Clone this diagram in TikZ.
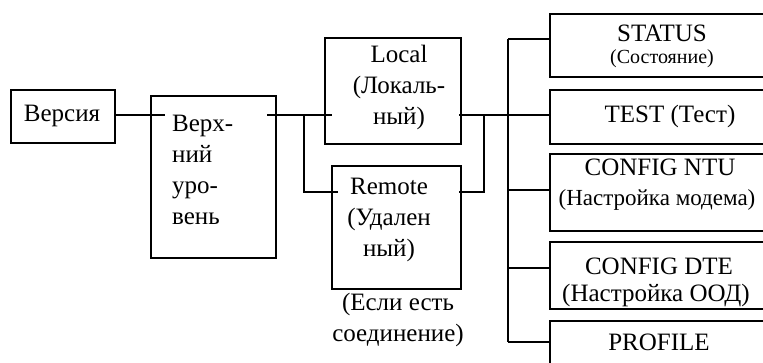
\documentclass[tikz,border=0pt]{standalone}
\usepackage{fontspec}
\setmainfont{Liberation Serif}
\begin{document}
\begin{tikzpicture}[x=1pt,y=-1pt,
  box/.style={draw,line width=1.6pt,inner sep=0pt,anchor=north west},
  wire/.style={line width=1.3pt},
  txt/.style={inner sep=0pt,font=\fontsize{25}{31}\selectfont,align=center},
  midtxt/.style={inner sep=0pt,font=\fontsize{23}{28}\selectfont,align=center},
  smalltxt/.style={inner sep=0pt,font=\fontsize{20}{24}\selectfont,align=center}]
\useasboundingbox (0,0) rectangle (763,363);
\clip (0,0) rectangle (763,363);
% boxes
\node[box,minimum width=104pt,minimum height=53pt] (ver) at (10,89) {};
\node[box,minimum width=125pt,minimum height=162pt] (top) at (150,95) {};
\node[box,minimum width=136pt,minimum height=106pt] (loc) at (324,37) {};
\node[box,minimum width=129pt,minimum height=123pt] (rem) at (331,165) {};
\node[box,minimum width=226pt,minimum height=63pt] (status) at (549,13) {};
\node[box,minimum width=226pt,minimum height=54pt] (test) at (549,89) {};
\node[box,minimum width=226pt,minimum height=77pt] (ntu) at (549,153) {};
\node[box,minimum width=226pt,minimum height=67pt] (dte) at (549,241) {};
\node[box,minimum width=226pt,minimum height=60pt] (prof) at (549,320) {};
% texts
\node[txt] (tver) at (62,116) {Версия};
\node[txt,align=left,anchor=west] (ttop) at (172,170) {Верх-\\ний\\уро-\\вень};
\node[txt] (tloc) at (399,87) {Local\\(Локаль-\\ный)};
\node[txt] (trem) at (389,220) {Remote\\(Удален\\ный)};
\node[txt] (tif) at (398,320) {(Если есть\\соединение)};
\node[txt] (tstatus) at (662,33) {STATUS};
\node[smalltxt] (tstatus2) at (662,59) {(Состояние)};
\node[txt] (ttest) at (670,116) {TEST (Тест)};
\node[txt] (tntu) at (660,167) {CONFIG NTU};
\node[midtxt] (tntu2) at (657,200) {(Настройка модема)};
\node[txt] (tdte) at (659,266) {CONFIG DTE};
\node[txt] (tdte2) at (656,295) {(Настройка ООД)};
\node[txt] (tprof) at (659,342) {PROFILE};
% junction coordinates
\coordinate (a1) at (165,115);
\coordinate (b0) at (267,115);
\coordinate (b1) at (304,115);
\coordinate (b2) at (304,192);
\coordinate (b3) at (338,192);
\coordinate (b4) at (332,115);
\coordinate (c0) at (459,115);
\coordinate (c1) at (484,115);
\coordinate (c2) at (484,192);
\coordinate (c3) at (459,192);
\coordinate (bus) at (508,115);
\coordinate (busT) at (508,39);
\coordinate (bus3) at (508,190);
\coordinate (bus4) at (508,268);
\coordinate (busB) at (508,342);
% wires
\draw[wire] (ver.east |- a1) -- (a1);
\draw[wire] (b0) -- (b4);
\draw[wire] (b1) -- (b2) -- (b3);
\draw[wire] (c0) -- (test.west |- bus);
\draw[wire] (c1) -- (c2) -- (c3);
\draw[wire] (busT) -- (busB);
\draw[wire] (busT) -- (status.west |- busT);
\draw[wire] (bus3) -- (ntu.west |- bus3);
\draw[wire] (bus4) -- (dte.west |- bus4);
\draw[wire] (busB) -- (prof.west |- busB);
\end{tikzpicture}
\end{document}
